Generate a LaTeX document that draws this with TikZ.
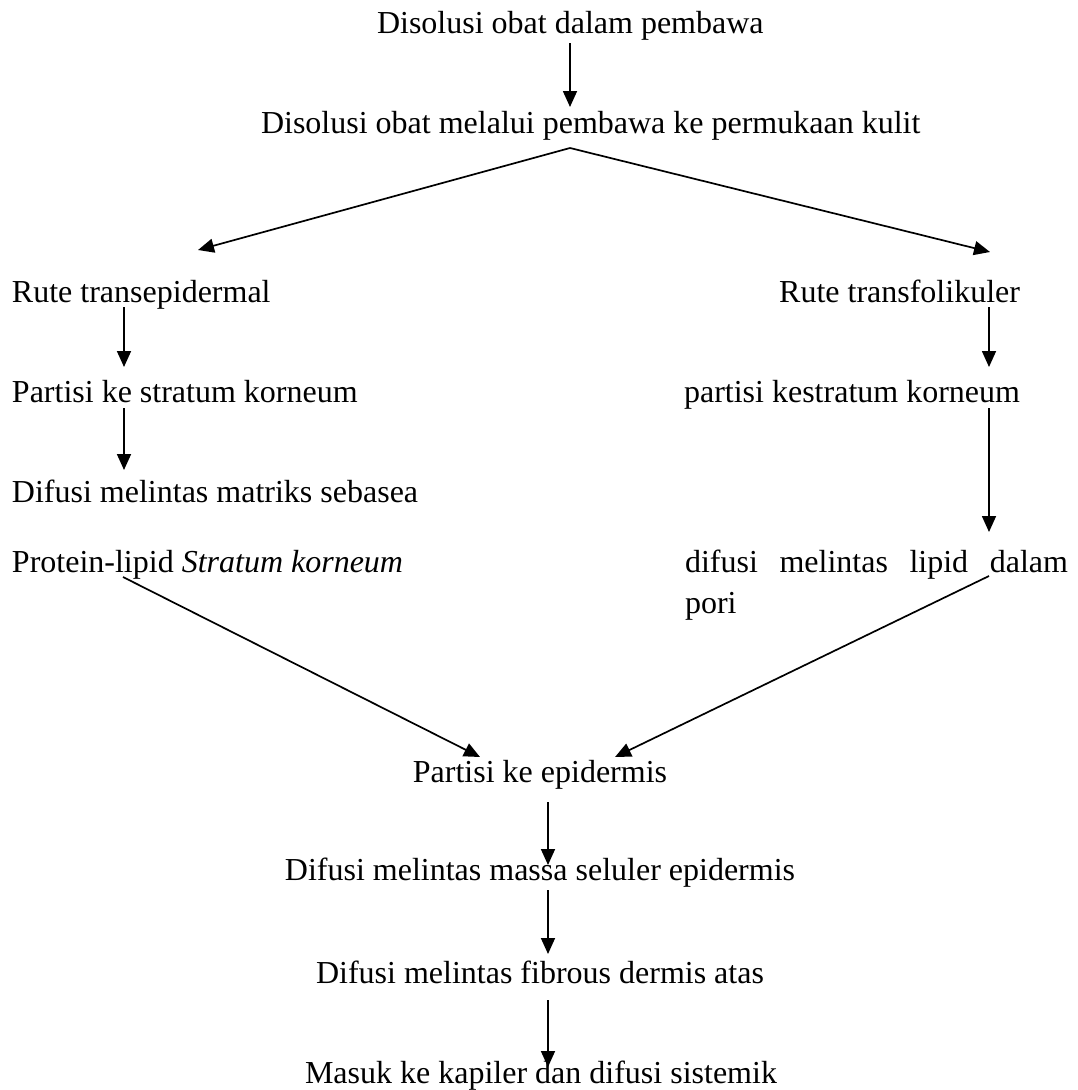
\documentclass[tikz,border=0pt]{standalone}
\usepackage{fontspec}
\setmainfont{Liberation Serif}
\usetikzlibrary{arrows.meta}
\begin{document}
\begin{tikzpicture}[x=1pt,y=-1pt,
  lbl/.style={inner sep=0pt, outer sep=0pt, font=\fontsize{32}{41}\selectfont},
  arr/.style={-{Triangle[length=16pt,width=14pt]}, line width=1.7pt},
  ln/.style={line width=1.7pt}]
\useasboundingbox (0,0) rectangle (1078,1090);
% texts
\node[lbl, anchor=base west] (t1) at (377,33) {Disolusi obat dalam pembawa};
\node[lbl, anchor=base west] (t2) at (261,133) {Disolusi obat melalui pembawa ke permukaan kulit};
\node[lbl, anchor=base west] (l1) at (12,302) {Rute transepidermal};
\node[lbl, anchor=base east] (r1) at (1020,302) {Rute transfolikuler};
\node[lbl, anchor=base west] (l2) at (12,402) {Partisi ke stratum korneum};
\node[lbl, anchor=base east] (r2) at (1020,402) {partisi kestratum korneum};
\node[lbl, anchor=base west] (l3) at (12,502) {Difusi melintas matriks sebasea};
\node[lbl, anchor=base west] (l4) at (12,572) {Protein-lipid \textit{Stratum korneum}};
\node[lbl, anchor=base west, align=left] (r3) at (685,613) {\makebox[383pt][s]{difusi melintas lipid dalam}\\pori};
\node[lbl, anchor=base] (b1) at (540,782) {Partisi ke epidermis};
\node[lbl, anchor=base] (b2) at (540,880) {Difusi melintas massa seluler epidermis};
\node[lbl, anchor=base] (b3) at (540,983) {Difusi melintas fibrous dermis atas};
\node[lbl, anchor=base] (b4) at (541,1083) {Masuk ke kapiler dan difusi sistemik};
% connector end points
\coordinate (c1a) at (570,43);   \coordinate (c1b) at (570,107);
\coordinate (apex) at (570,148);
\coordinate (tipL) at (198,250); \coordinate (tipR) at (990,252);
\coordinate (l1a) at (124,307);  \coordinate (l1b) at (124,367);
\coordinate (r1a) at (989,307);  \coordinate (r1b) at (989,367);
\coordinate (l2a) at (124,408);  \coordinate (l2b) at (124,470);
\coordinate (r2a) at (989,408);  \coordinate (r2b) at (989,532);
\coordinate (l4a) at (123,577);  \coordinate (b1L) at (480,757);
\coordinate (r3a) at (989,576);  \coordinate (b1R) at (615,757);
\coordinate (b1a) at (548,802);  \coordinate (b2t) at (548,865);
\coordinate (b2a) at (548,890);  \coordinate (b3t) at (548,954);
\coordinate (b3a) at (548,1000); \coordinate (b4t) at (548,1067);
% connectors
\draw[arr] (c1a) -- (c1b);
\draw[arr] (apex) -- (tipL);
\draw[arr] (apex) -- (tipR);
\draw[arr] (l1a) -- (l1b);
\draw[arr] (r1a) -- (r1b);
\draw[arr] (l2a) -- (l2b);
\draw[arr] (r2a) -- (r2b);
\draw[arr] (l4a) -- (b1L);
\draw[arr] (r3a) -- (b1R);
\draw[arr] (b1a) -- (b2t);
\draw[arr] (b2a) -- (b3t);
\draw[arr] (b3a) -- (b4t);
\end{tikzpicture}
\end{document}
